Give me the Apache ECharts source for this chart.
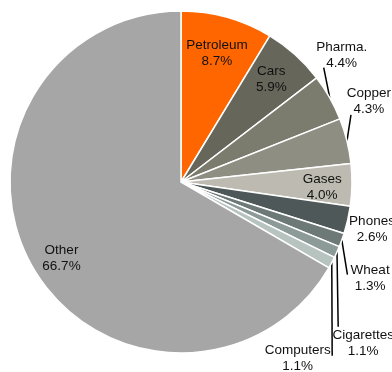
<!DOCTYPE html>
<html><head><meta charset="utf-8">
<script src="https://cdn.jsdelivr.net/npm/echarts@6/dist/echarts.min.js"></script>
<style>html,body{margin:0;padding:0;background:#fff}#c{width:392px;height:372px}</style>
</head><body><div id="c"></div>
<script>
const categories = ['Petroleum','Cars','Pharma.','Copper','Gases','Phones','Wheat','Cigarettes','Computers','Other'];
const shares = [8.7, 5.9, 4.4, 4.3, 4.0, 2.6, 1.3, 1.1, 1.1, 66.7];
const colors = ['#FF6600','#66665B','#7B7B6E','#8E8E82','#BDBBB1','#4E5858','#6C7977','#8D9B98','#B6C3BF','#A6A6A6'];

// layout / style settings (not data)
const CX = 181, CY = 182, R = 171;
const insideLabels = {
  'Petroleum': { k: 0.78, shift: [0, 0] },
  'Cars':      { k: 0.8,  shift: [-1, -1] },
  'Gases':     { k: 0.82, shift: [1, 3] },
  'Other':     { k: 0.82, shift: [2, 6] }
};
const outsideLabels = {
  'Pharma.':    { line: [-6, -30], text: [18, -12] },
  'Copper':     { line: [4, -26],  text: [18, -13.5] },
  'Phones':     { line: null,      text: [24.3, 9.2] },
  'Wheat':      { line: [5.6, 34.6], text: [22.7, 4] },
  'Cigarettes': { line: [1.2, 74.6], text: [25, 16.5] },
  'Computers':  { line: [0.4, 93],   text: [-34.5, 3] }
};

const total = shares.reduce((a, b) => a + b, 0);
function midAngle(i) {
  let before = 0;
  for (let j = 0; j < i; j++) before += shares[j];
  return (before + shares[i] / 2) / total * 2 * Math.PI;
}

const data = categories.map((name, i) => {
  const inside = name in insideLabels;
  const hasLine = !inside && outsideLabels[name].line;
  return {
    name: name,
    value: shares[i],
    itemStyle: { color: colors[i] },
    labelLine: { show: !!hasLine }
  };
});

const chart = echarts.init(document.getElementById('c'), null, { renderer: 'canvas' });
chart.setOption({
  animation: false,
  backgroundColor: '#fff',
  series: [{
    type: 'pie',
    center: [CX, CY],
    radius: [0, R],
    startAngle: 90,
    clockwise: true,
    avoidLabelOverlap: false,
    itemStyle: { borderColor: '#fff', borderWidth: 1.5 },
    label: {
      show: true,
      position: 'outside',
      fontFamily: 'Liberation Sans, Arial, sans-serif',
      fontSize: 13.5,
      lineHeight: 16,
      color: '#111',
      align: 'center',
      formatter: p => p.name + '\n' + p.value.toFixed(1) + '%'
    },
    labelLine: { show: true, length: 10, length2: 0, lineStyle: { color: '#000', width: 1.5 } },
    emphasis: { disabled: true },
    data: data,
    labelLayout: function (p) {
      const i = p.dataIndex;
      const name = categories[i];
      const a = midAngle(i);
      const sx = Math.sin(a), sy = -Math.cos(a);
      if (name in insideLabels) {
        const s = insideLabels[name];
        const k = s.k * R;
        return { x: CX + k * sx + s.shift[0], y: CY + k * sy + s.shift[1], align: 'center', verticalAlign: 'middle' };
      }
      const o = outsideLabels[name];
      const ex = CX + R * sx, ey = CY + R * sy;
      if (!o.line) {
        return { x: ex + o.text[0], y: ey + o.text[1], align: 'center', verticalAlign: 'middle' };
      }
      const lx = ex + o.line[0], ly = ey + o.line[1];
      return {
        x: lx + o.text[0], y: ly + o.text[1], align: 'center', verticalAlign: 'middle',
        labelLinePoints: [[ex, ey], [lx, ly]]
      };
    }
  }]
});
</script>
</body></html>
